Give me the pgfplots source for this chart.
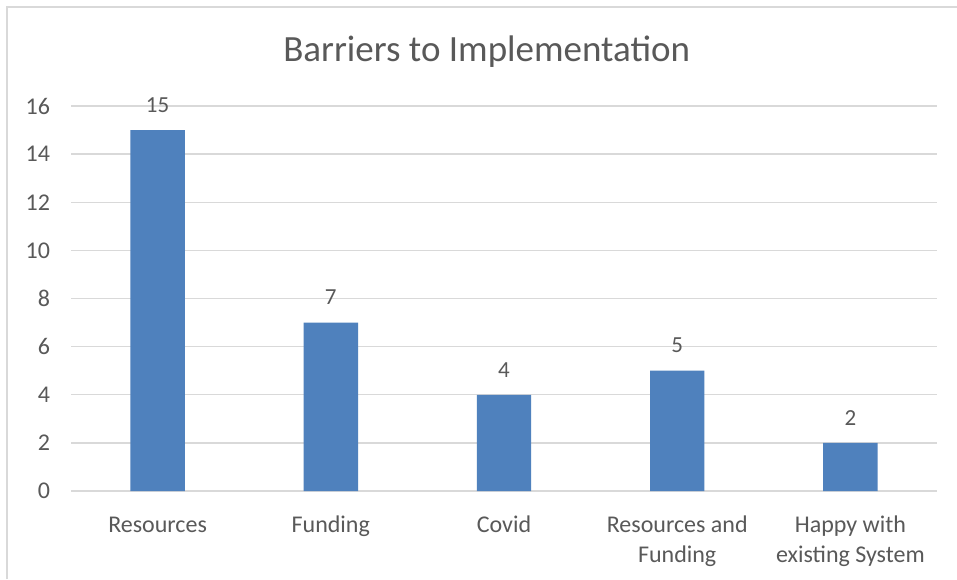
\documentclass[border=0pt]{standalone}
\usepackage{fontspec}
\setmainfont{Carlito}
\usepackage{pgfplots}
\pgfplotsset{compat=1.18}
\definecolor{barblue}{HTML}{4F81BD}
\definecolor{txtgray}{HTML}{595959}
\definecolor{gridgray}{HTML}{D9D9D9}
\begin{document}
\begin{tikzpicture}
\path[use as bounding box] (0,0) rectangle (478.5pt,289.5pt);
\fill[white] (0,0) rectangle (478.5pt,289.5pt);
\draw[gridgray, line width=0.7pt] (3.5pt,0) -- (3.5pt,286pt) -- (478.5pt,286pt);
\begin{axis}[
  at={(35.5pt,44pt)}, anchor=south west,
  scale only axis, width=433pt, height=192.5pt,
  xmin=-0.5, xmax=4.5, ymin=0, ymax=16,
  ytick={0,2,...,16},
  xtick=data,
  xticklabels={\strut Resources,\strut Funding,\strut Covid,{\strut Resources and\\Funding},{\strut Happy with\\existing System}},
  ymajorgrids, grid style={gridgray, line width=0.7pt},
  axis line style={draw=none},
  major tick style={draw=none},
  /pgf/number format/assume math mode=true,
  ticklabel style={font=\fontsize{12}{15}\selectfont, text=txtgray},
  yticklabel style={xshift=-7pt},
  xticklabel style={align=center, anchor=north, yshift=-6.5pt},
  title={Barriers to Implementation},
  title style={at={(0.48,1)}, anchor=center, yshift=21pt, font=\fontsize{18.5}{22}\selectfont, text=txtgray},
  nodes near coords,
  nodes near coords style={anchor=center, yshift=12.5pt, font=\fontsize{11.5}{14}\selectfont, text=txtgray},
  every node near coord/.append style={/pgf/number format/assume math mode=true},
]
\addplot[ybar, bar width=27.2pt, fill=barblue, draw=none] coordinates {(0,15) (1,7) (2,4) (3,5) (4,2)};
\end{axis}
\end{tikzpicture}
\end{document}
